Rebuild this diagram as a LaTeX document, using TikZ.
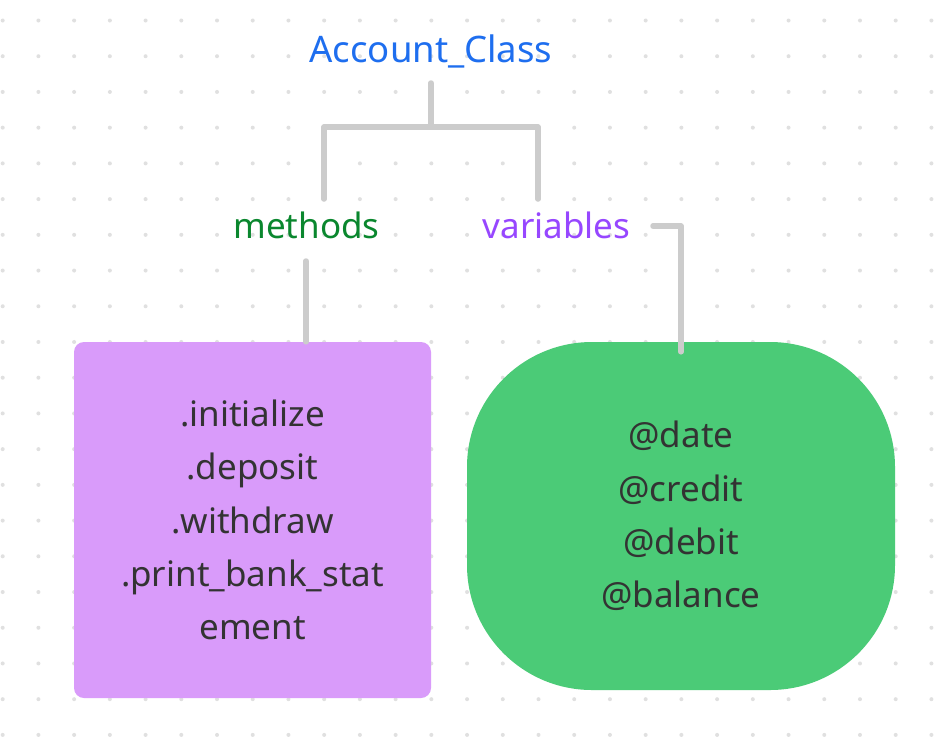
\documentclass[tikz,border=0pt]{standalone}
\usepackage{fontspec}
\setmainfont{Noto Sans}
\definecolor{dotgray}{HTML}{E0E0E0}
\definecolor{linegray}{HTML}{CCCCCC}
\definecolor{accblue}{HTML}{1E6EEF}
\definecolor{methgreen}{HTML}{0A872E}
\definecolor{varpurple}{HTML}{9747FF}
\definecolor{boxpurple}{HTML}{D99BFA}
\definecolor{boxgreen}{HTML}{4BCB77}
\definecolor{txtdark}{HTML}{333333}
\tikzset{
  conn/.style={draw=linegray, line width=5.5pt, line cap=round, line join=round},
  lbl/.style={font=\fontsize{35}{40}\selectfont, inner sep=0pt},
  boxtxt/.style={font=\fontsize{35}{53.3}\selectfont, text=txtdark, align=center, inner sep=0pt}
}
\begin{document}
\begin{tikzpicture}[x=1pt,y=-1pt]
\useasboundingbox (0,0) rectangle (934,740);
\fill[white] (0,0) rectangle (934,740);
% dot grid
\foreach \i in {0,...,26}{
  \foreach \j in {0,...,20}{
    \fill[dotgray] (2.7+35.72*\i, 20.5+35.72*\j) circle (2pt);
  }
}
% shapes
\node[boxtxt, fill=boxpurple, rounded corners=10pt, minimum width=357pt, minimum height=356pt] (mbox) at (252.5,520)
  {.initialize\\.deposit\\.withdraw\\.print\_bank\_stat\\ement};
\node[boxtxt, fill=boxgreen, rounded corners=125pt, minimum width=428pt, minimum height=348pt] (vbox) at (681,516)
  {@date\\@credit\\@debit\\@balance};
% labels
\node[lbl, font=\fontsize{36.5}{40}\selectfont, text=accblue, anchor=base] (acc) at (431,62) {Account\_Class};
\node[lbl, text=methgreen, anchor=base] (meth) at (306.5,238) {methods};
\node[lbl, text=varpurple, anchor=base] (var) at (556.5,238) {variables};
% connector end points
\coordinate (accB) at (431,83);
\coordinate (jL) at (324,199);
\coordinate (jR) at (538,199);
\coordinate (methB) at (306,261);
\coordinate (varE) at (653,226);
% connectors
\draw[conn] (accB) -- ++(0,44);
\draw[conn] (jL) -- ++(0,-72) -| (jR);
\draw[conn] (methB) -- (methB |- mbox.north);
\draw[conn] (varE) -| ([yshift=-10pt]vbox.north);
\end{tikzpicture}
\end{document}
